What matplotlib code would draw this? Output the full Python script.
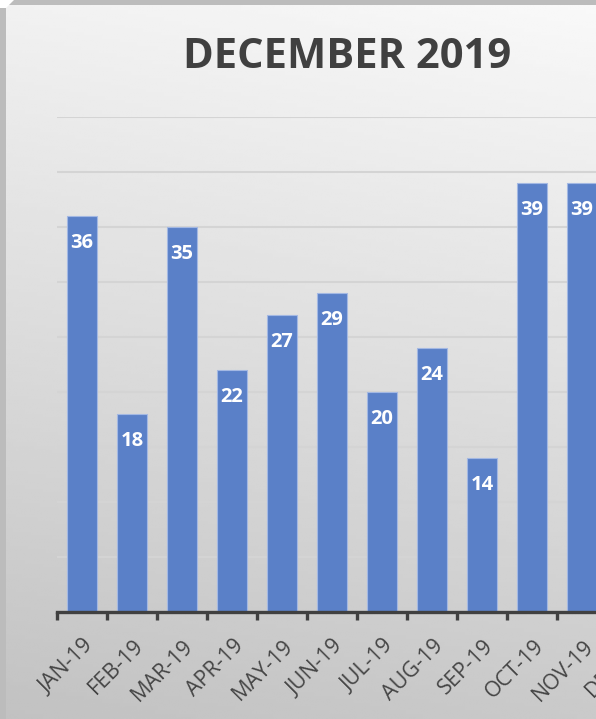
import numpy as np
import matplotlib.pyplot as plt
import matplotlib.transforms as mtransforms
from matplotlib.patches import Polygon

plt.rcParams['font.family'] = ['Open Sans', 'DejaVu Sans']

months = ['JAN-19', 'FEB-19', 'MAR-19', 'APR-19', 'MAY-19', 'JUN-19',
          'JUL-19', 'AUG-19', 'SEP-19', 'OCT-19', 'NOV-19', 'DEC-19']
counts = [36, 18, 35, 22, 27, 29, 20, 24, 14, 39, 39]

W, H = 596, 719
fig = plt.figure(figsize=(W / 100, H / 100), dpi=100)
fig.patch.set_facecolor('#bcbcbc')

# white corner with bevel at top-left
fig.patches.append(Polygon([[0, 1], [14 / W, 1], [6 / W, 1 - 8 / H], [0, 1 - 8 / H]],
                           closed=True, transform=fig.transFigure,
                           facecolor='white', edgecolor='none'))

# background panel with soft grey gradient
bg = fig.add_axes([6 / W, 0, 1 - 6 / W, 1 - 5 / H], zorder=0)
yy, xx = np.mgrid[0:1:200j, 0:1:200j]
shade = 0.975 - 0.185 * yy - 0.03 * (1 - xx)
bg.imshow(shade, cmap='gray', vmin=0, vmax=1, aspect='auto',
          extent=[0, 1, 1, 0], interpolation='bilinear')
bg.axis('off')

left, right, bottom, top = 57, 657, 107, 602
ax = fig.add_axes([left / W, bottom / H, (right - left) / W, (top - bottom) / H], zorder=1)
ax.patch.set_alpha(0)

x = np.arange(len(counts))
bars = ax.bar(x, counts, width=0.6, color='#5a80c8', edgecolor='#a3b8e3',
              linewidth=0.8, zorder=3)
for xi, v in zip(x, counts):
    ax.annotate(str(v), (xi, v), xytext=(0, -19.5), textcoords='offset points',
                ha='center', va='center', color='white', fontsize=14.5,
                fontweight='bold', zorder=4)

ax.set_xlim(-0.5, len(months) - 0.5)
ax.set_ylim(0, 45)
ax.set_yticks(np.arange(5, 46, 5))
ax.yaxis.grid(True, color='#d4d4d4', linewidth=1.5, zorder=0)
ax.tick_params(axis='y', left=False, labelleft=False)

for s in ['top', 'right', 'left']:
    ax.spines[s].set_visible(False)
ax.spines['bottom'].set_color('#404040')
ax.spines['bottom'].set_linewidth(2.4)
ax.spines['bottom'].set_zorder(5)

ax.set_xticks(np.arange(len(months)))
ax.set_xticklabels(months, rotation=45, ha='right', va='top',
                   rotation_mode='anchor', color='#454545', fontsize=15.5)
ax.tick_params(axis='x', which='major', length=0, pad=17)
ax.set_xticks(np.arange(-0.5, len(months), 1), minor=True)
ax.tick_params(axis='x', which='minor', length=5.5, width=2.4, color='#404040')
shift = mtransforms.ScaledTranslation(1 / 100, 0, fig.dpi_scale_trans)
for lab in ax.get_xticklabels():
    lab.set_transform(lab.get_transform() + shift)

fig.text(347 / W, 1 - 57 / H, 'DECEMBER 2019', ha='center', va='center',
         fontsize=30, fontweight='bold', color='#404040')

fig.savefig('out.png', dpi=100)
